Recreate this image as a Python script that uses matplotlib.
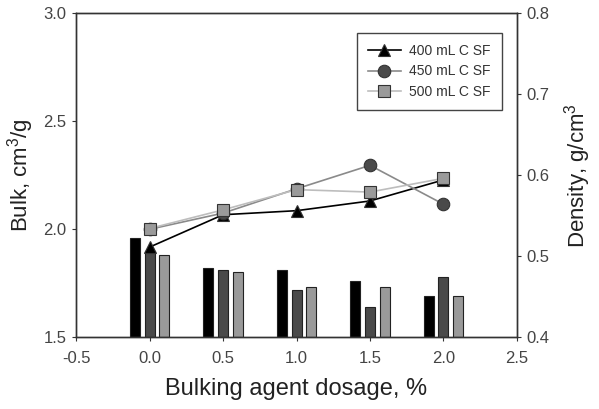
import numpy as np
import matplotlib
matplotlib.use("Agg")
from matplotlib import pyplot as plt

plt.rcParams['font.family'] = ['Liberation Sans', 'DejaVu Sans']
plt.rcParams['mathtext.fontset'] = 'custom'
plt.rcParams['mathtext.rm'] = 'Liberation Sans'

# bulking agent dosage, %
dosage = [0.0, 0.5, 1.0, 1.5, 2.0]
series = ["400 mL C SF", "450 mL C SF", "500 mL C SF"]

# bulk, cm3/g (bars, left axis)
bulk_400 = [1.96, 1.82, 1.81, 1.76, 1.69]
bulk_450 = [1.90, 1.81, 1.72, 1.64, 1.78]
bulk_500 = [1.88, 1.80, 1.73, 1.73, 1.69]

# density, g/cm3 (lines, right axis)
dens_400 = [0.511, 0.551, 0.556, 0.568, 0.594]
dens_450 = [0.533, 0.553, 0.583, 0.612, 0.564]
dens_500 = [0.534, 0.557, 0.582, 0.579, 0.596]

bar_colors = ['black', '#4a4a4a', '#9a9a9a']
line_colors = ['black', '#8a8a8a', '#bdbdbd']
marker_faces = ['black', '#4a4a4a', '#9a9a9a']
markers = ['^', 'o', 's']
tick_color = '#444444'

fig = plt.figure(figsize=(5.99, 4.09), dpi=100)
ax = fig.add_axes([0.127, 0.176, 0.736, 0.792])
ax2 = ax.twinx()

x = np.array(dosage)
width = 0.068
offsets = [-0.1, 0.0, 0.1]
for vals, off, c in zip([bulk_400, bulk_450, bulk_500], offsets, bar_colors):
    ax.bar(x + off, np.array(vals) - 1.5, width, bottom=1.5, color=c,
           edgecolor='#222222', linewidth=0.8, zorder=2)

for vals, lab, lc, mf, m in zip([dens_400, dens_450, dens_500], series,
                                line_colors, marker_faces, markers):
    ax2.plot(x, vals, color=lc, linewidth=1.2, marker=m, markersize=9,
             markerfacecolor=mf, markeredgecolor='#333333', markeredgewidth=0.8,
             label=lab)

ax.set_xlim(-0.5, 2.5)
ax.set_ylim(1.5, 3.0)
ax2.set_ylim(0.4, 0.8)
ax.set_xticks([-0.5, 0.0, 0.5, 1.0, 1.5, 2.0, 2.5])
ax.set_yticks([1.5, 2.0, 2.5, 3.0])
ax2.set_yticks([0.4, 0.5, 0.6, 0.7, 0.8])
ax.xaxis.set_major_formatter(matplotlib.ticker.FormatStrFormatter('%.1f'))
ax.yaxis.set_major_formatter(matplotlib.ticker.FormatStrFormatter('%.1f'))
ax2.yaxis.set_major_formatter(matplotlib.ticker.FormatStrFormatter('%.1f'))

for a in (ax, ax2):
    a.tick_params(direction='out', length=3, width=0.8, colors='#333333',
                  labelcolor=tick_color, labelsize=12, pad=4)
    for s in a.spines.values():
        s.set_color('#333333')
        s.set_linewidth(1.0)
ax.tick_params(axis='x', pad=7)

ax.set_xlabel('Bulking agent dosage, %', fontsize=17, color='#222222', labelpad=9)
ax.set_ylabel('Bulk, cm$^3$/g', fontsize=16, color='#222222', labelpad=5)
ax2.set_ylabel('Density, g/cm$^3$', fontsize=16, color='#222222', labelpad=9)

leg = ax2.legend(loc='upper right', bbox_to_anchor=(0.838, 0.919),
                 bbox_transform=fig.transFigure, borderaxespad=0, fontsize=10,
                 fancybox=False, edgecolor='#444444', framealpha=1,
                 handlelength=2.4, handletextpad=0.6, borderpad=0.8,
                 labelspacing=0.45)
leg.get_frame().set_linewidth(1.0)
for t in leg.get_texts():
    t.set_color('#333333')

fig.savefig('out.png', dpi=100)
